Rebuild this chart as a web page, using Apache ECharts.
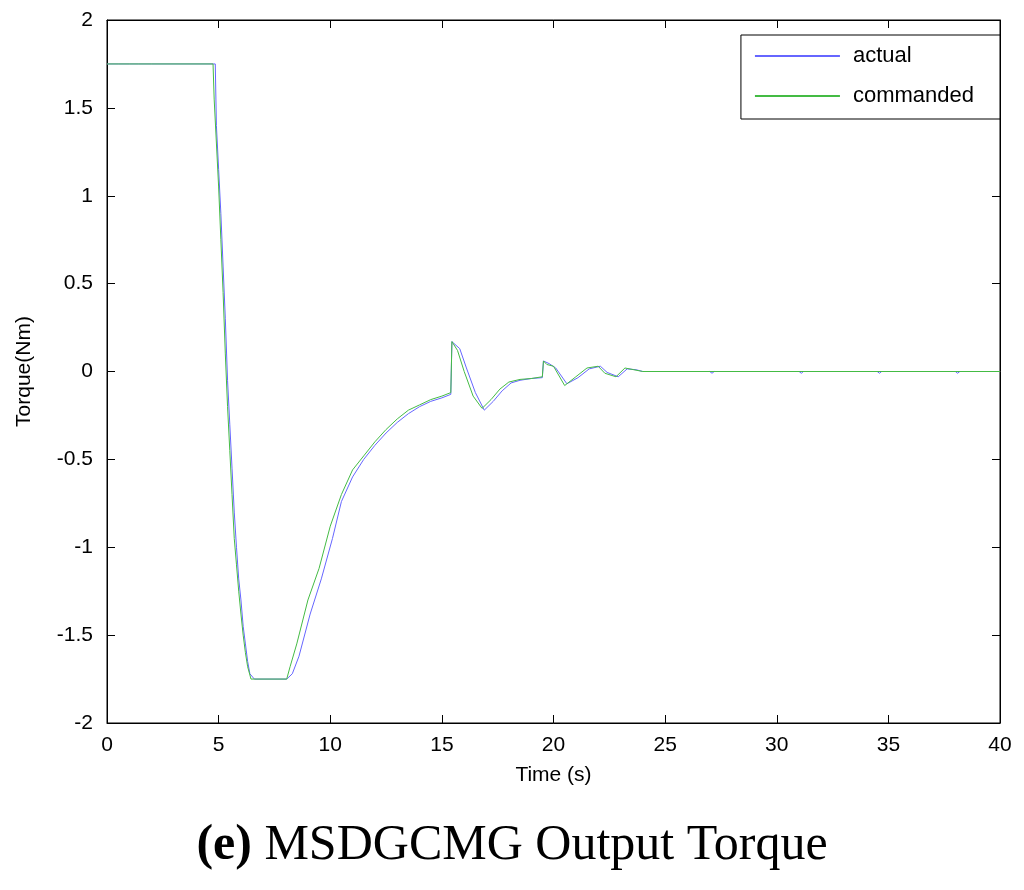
<!DOCTYPE html>
<html><head><meta charset="utf-8">
<script src="https://cdn.jsdelivr.net/npm/echarts@6/dist/echarts.min.js"></script>
<style>html,body{margin:0;background:#fff}#c{width:1024px;height:890px}</style>
</head><body><div id="c"></div>
<script>
var cmdT = [0,4.75,4.8,4.9,5.0,5.1,5.2,5.3,5.4,5.5,5.6,5.7,5.8,5.9,6.0,6.1,6.2,6.3,6.45,8.05,8.2,8.5,9.0,9.5,10,10.5,11,11.5,12,12.5,13,13.5,14,14.5,15,15.4,15.45,15.7,16.0,16.4,16.8,17.2,17.6,18,18.5,19,19.5,19.55,19.7,20,20.5,21,21.5,22,22.3,22.8,23.2,23.6,24,40];
var cmdV = [1.75,1.75,1.55,1.3,1.05,0.75,0.45,0.1,-0.2,-0.45,-0.7,-0.95,-1.1,-1.25,-1.38,-1.5,-1.6,-1.68,-1.75,-1.75,-1.68,-1.55,-1.3,-1.12,-0.88,-0.7,-0.56,-0.48,-0.4,-0.33,-0.27,-0.22,-0.19,-0.16,-0.14,-0.12,0.17,0.12,0.0,-0.14,-0.21,-0.16,-0.1,-0.06,-0.045,-0.04,-0.03,0.06,0.04,0.03,-0.08,-0.03,0.02,0.03,-0.01,-0.03,0.02,0.01,0,0];
var actT = [0,0.5,0.55,1.0,1.4,1.45,2.0,4.85,4.9,5.0,5.1,5.2,5.3,5.4,5.5,5.6,5.7,5.8,5.9,6.0,6.1,6.2,6.3,6.4,6.6,8.05,8.3,8.6,9.1,9.6,10.1,10.5,11,11.5,12,12.5,13,13.5,14,14.5,15,15.4,15.45,15.8,16.1,16.5,16.9,17.3,17.7,18.1,18.5,19,19.5,19.55,19.8,20.1,20.6,21.1,21.6,22.1,22.4,22.9,23.3,23.7,24,27,27.1,27.2,31,31.1,31.2,34.5,34.6,34.7,38,38.1,38.2,40];
var actV = [1.75,1.75,1.76,1.75,1.75,1.76,1.75,1.75,1.4,1.15,0.9,0.6,0.3,-0.05,-0.3,-0.55,-0.8,-1.0,-1.18,-1.3,-1.45,-1.55,-1.65,-1.72,-1.75,-1.75,-1.72,-1.62,-1.38,-1.18,-0.95,-0.74,-0.6,-0.5,-0.42,-0.35,-0.29,-0.24,-0.2,-0.17,-0.15,-0.13,0.17,0.13,0.02,-0.12,-0.22,-0.17,-0.11,-0.065,-0.05,-0.04,-0.035,0.06,0.045,0.02,-0.07,-0.035,0.015,0.03,-0.005,-0.03,0.015,0.01,0,0,-0.01,0,0,-0.01,0,0,-0.01,0,0,-0.01,0,0];
function pairs(t,v){return t.map(function(x,i){return [x,v[i]];});}
var ax = {axisLine:{onZero:false,lineStyle:{color:'#000'}},axisTick:{inside:true,length:8,lineStyle:{color:'#000'}},splitLine:{show:false}};
var lbl = {fontFamily:'Liberation Sans',fontSize:21,color:'#000'};
var ch = echarts.init(document.getElementById('c'));
ch.setOption({
  animation:false,
  grid:{left:107,right:24,top:20,bottom:167,show:true,borderColor:'#000',borderWidth:1},
  title:{text:'{b|(e)} MSDGCMG Output Torque',left:'center',top:816,textStyle:{fontFamily:'Liberation Serif',fontSize:50,fontWeight:'normal',color:'#000',rich:{b:{fontFamily:'Liberation Serif',fontSize:50,fontWeight:'bold',color:'#000'}}}},
  legend:{right:24,top:35,orient:'vertical',backgroundColor:'#fff',borderColor:'#000',borderWidth:1,padding:[10,26,12,14],itemGap:18,itemWidth:85,itemHeight:2,icon:'rect',textStyle:{fontFamily:'Liberation Sans',fontSize:22,color:'#000',padding:[0,0,0,8]},data:['actual','commanded']},
  xAxis:[Object.assign({type:'value',min:0,max:40,interval:5,name:'Time (s)',nameLocation:'middle',nameGap:42,nameTextStyle:lbl,axisLabel:Object.assign({margin:12},lbl)},ax),
         Object.assign({type:'value',position:'top',min:0,max:40,interval:5,axisLabel:{show:false}},ax)],
  yAxis:[Object.assign({type:'value',min:-2,max:2,interval:0.5,name:'Torque(Nm)',nameLocation:'middle',nameGap:72,nameTextStyle:lbl,axisLabel:Object.assign({margin:14},lbl)},ax),
         Object.assign({type:'value',position:'right',min:-2,max:2,interval:0.5,axisLabel:{show:false}},ax)],
  series:[
    {name:'actual',type:'line',showSymbol:false,data:pairs(actT,actV),lineStyle:{width:1,color:'#6666ff'},itemStyle:{color:'#6666ff'}},
    {name:'commanded',type:'line',showSymbol:false,data:pairs(cmdT,cmdV),lineStyle:{width:1,color:'#44bb44'},itemStyle:{color:'#44bb44'}}
  ]
});
</script></body></html>
